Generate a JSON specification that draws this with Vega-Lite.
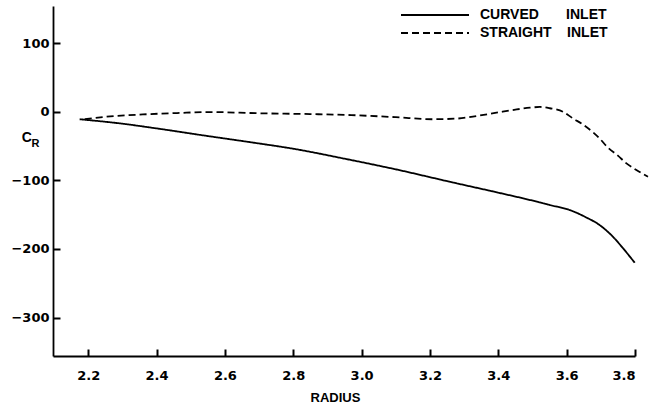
{
  "$schema": "https://vega.github.io/schema/vega-lite/v6.json",
  "width": 582,
  "height": 350,
  "autosize": {"type": "none"},
  "padding": {"left": 53, "top": 6, "right": 15, "bottom": 53},
  "background": "white",
  "title": {"text": "R", "orient": "top", "anchor": "start", "frame": "group", "offset": 0, "dx": -21.5, "dy": 152, "baseline": "alphabetic", "font": "Liberation Sans", "fontSize": 11, "fontWeight": "bold", "color": "black"},
  "data": {"values": [
    {"inlet": "CURVED INLET", "r": 2.175, "cr": -11},
    {"inlet": "CURVED INLET", "r": 2.3, "cr": -17.5},
    {"inlet": "CURVED INLET", "r": 2.409, "cr": -25},
    {"inlet": "CURVED INLET", "r": 2.55, "cr": -35.5},
    {"inlet": "CURVED INLET", "r": 2.682, "cr": -45},
    {"inlet": "CURVED INLET", "r": 2.8, "cr": -54},
    {"inlet": "CURVED INLET", "r": 2.965, "cr": -70},
    {"inlet": "CURVED INLET", "r": 3.1, "cr": -84},
    {"inlet": "CURVED INLET", "r": 3.257, "cr": -102},
    {"inlet": "CURVED INLET", "r": 3.4, "cr": -118},
    {"inlet": "CURVED INLET", "r": 3.493, "cr": -128.7},
    {"inlet": "CURVED INLET", "r": 3.551, "cr": -136},
    {"inlet": "CURVED INLET", "r": 3.609, "cr": -143.3},
    {"inlet": "CURVED INLET", "r": 3.657, "cr": -154},
    {"inlet": "CURVED INLET", "r": 3.696, "cr": -165},
    {"inlet": "CURVED INLET", "r": 3.735, "cr": -182},
    {"inlet": "CURVED INLET", "r": 3.765, "cr": -199},
    {"inlet": "CURVED INLET", "r": 3.799, "cr": -220},
    {"inlet": "STRAIGHT INLET", "r": 2.19, "cr": -11},
    {"inlet": "STRAIGHT INLET", "r": 2.25, "cr": -7.5},
    {"inlet": "STRAIGHT INLET", "r": 2.36, "cr": -4},
    {"inlet": "STRAIGHT INLET", "r": 2.46, "cr": -2},
    {"inlet": "STRAIGHT INLET", "r": 2.555, "cr": -0.5},
    {"inlet": "STRAIGHT INLET", "r": 2.7, "cr": -2.3},
    {"inlet": "STRAIGHT INLET", "r": 2.85, "cr": -3.5},
    {"inlet": "STRAIGHT INLET", "r": 2.97, "cr": -5},
    {"inlet": "STRAIGHT INLET", "r": 3.1, "cr": -8},
    {"inlet": "STRAIGHT INLET", "r": 3.21, "cr": -11},
    {"inlet": "STRAIGHT INLET", "r": 3.28, "cr": -10},
    {"inlet": "STRAIGHT INLET", "r": 3.34, "cr": -6},
    {"inlet": "STRAIGHT INLET", "r": 3.4, "cr": -1},
    {"inlet": "STRAIGHT INLET", "r": 3.45, "cr": 3},
    {"inlet": "STRAIGHT INLET", "r": 3.493, "cr": 5.8},
    {"inlet": "STRAIGHT INLET", "r": 3.522, "cr": 6.9},
    {"inlet": "STRAIGHT INLET", "r": 3.551, "cr": 5},
    {"inlet": "STRAIGHT INLET", "r": 3.589, "cr": 0},
    {"inlet": "STRAIGHT INLET", "r": 3.618, "cr": -9.7},
    {"inlet": "STRAIGHT INLET", "r": 3.647, "cr": -18.4},
    {"inlet": "STRAIGHT INLET", "r": 3.677, "cr": -30},
    {"inlet": "STRAIGHT INLET", "r": 3.696, "cr": -38.8},
    {"inlet": "STRAIGHT INLET", "r": 3.721, "cr": -52.5},
    {"inlet": "STRAIGHT INLET", "r": 3.75, "cr": -64},
    {"inlet": "STRAIGHT INLET", "r": 3.774, "cr": -75},
    {"inlet": "STRAIGHT INLET", "r": 3.804, "cr": -85},
    {"inlet": "STRAIGHT INLET", "r": 3.838, "cr": -94.7}
  ]},
  "layer": [
    {
      "mark": {"type": "line", "interpolate": "monotone", "strokeWidth": 1.8, "color": "black", "clip": false},
      "encoding": {
        "x": {
          "field": "r", "type": "quantitative",
          "scale": {"domain": [2.097, 3.8], "nice": false, "zero": false},
          "axis": {
            "orient": "bottom",
            "values": [2.2, 2.4, 2.6, 2.8, 3.0, 3.2, 3.4, 3.6, 3.8],
            "format": ".1f", "grid": false, "ticks": false,
            "tickSize": 0, "labelPadding": 13,
            "title": "RADIUS", "titleFont": "Liberation Sans", "titleFontSize": 13, "titleFontWeight": "bold",
            "titleX": 282, "titleY": 45.7, "titleAlign": "center", "titleBaseline": "alphabetic", "titleAnchor": null
          }
        },
        "y": {
          "field": "cr", "type": "quantitative",
          "scale": {"domain": [-356, 154], "nice": false, "zero": false},
          "axis": {
            "orient": "left",
            "values": [-300, -200, -100, 0, 100],
            "grid": false, "ticks": false,
            "tickSize": 0, "labelPadding": 4,
            "title": "C", "titleAngle": 0, "titleAlign": "center", "titleBaseline": "alphabetic",
            "titleX": -26.6, "titleY": 135,
            "titleFont": "Liberation Sans", "titleFontSize": 14, "titleFontWeight": "bold"
          }
        },
        "strokeDash": {
          "field": "inlet", "type": "nominal",
          "scale": {"domain": ["CURVED INLET", "STRAIGHT INLET"], "range": [[1, 0], [7, 4]]},
          "legend": {
            "orient": "none", "legendX": 347, "legendY": 2,
            "title": null, "padding": 0,
            "symbolType": "stroke", "symbolSize": 4624, "symbolStrokeWidth": 1.8, "symbolStrokeColor": "black",
            "clipHeight": 14,
            "labelFont": "Liberation Sans", "labelFontSize": 14, "labelFontWeight": "bold", "labelColor": "black",
            "labelOffset": 10, "rowPadding": 4,
            "labelExpr": "datum.label == 'CURVED INLET' ? 'CURVED\u00a0\u00a0\u00a0\u00a0\u00a0\u00a0\u00a0INLET' : 'STRAIGHT\u00a0\u00a0\u00a0\u00a0INLET'"
          }
        }
      }
    },
    {
      "mark": {"type": "line", "opacity": 0, "clip": false},
      "encoding": {
        "detail": {"field": "inlet", "type": "nominal"},
        "x": {
          "field": "r", "type": "quantitative",
          "axis": {
            "orient": "bottom", "offset": -7,
            "values": [2.2, 2.4, 2.6, 2.8, 3.0, 3.2, 3.4, 3.6, 3.8],
            "grid": false, "domain": false, "labels": false, "ticks": true, "tickSize": 7, "tickWidth": 2, "tickColor": "black", "tickOpacity": 1, "title": null
          }
        },
        "y": {
          "field": "cr", "type": "quantitative",
          "axis": {
            "orient": "left", "offset": -7,
            "values": [-300, -200, -100, 0, 100],
            "grid": false, "domain": false, "labels": false, "ticks": true, "tickSize": 7, "tickWidth": 2, "tickColor": "black", "tickOpacity": 1, "title": null
          }
        }
      }
    }
  ],
  "resolve": {"axis": {"x": "independent", "y": "independent"}},
  "config": {
    "view": {"stroke": null},
    "axis": {
      "domainColor": "black", "domainWidth": 1.8,
      "labelFont": "DejaVu Sans", "labelFontSize": 13, "labelFontWeight": "bold", "labelColor": "black",
      "titleColor": "black"
    }
  }
}
